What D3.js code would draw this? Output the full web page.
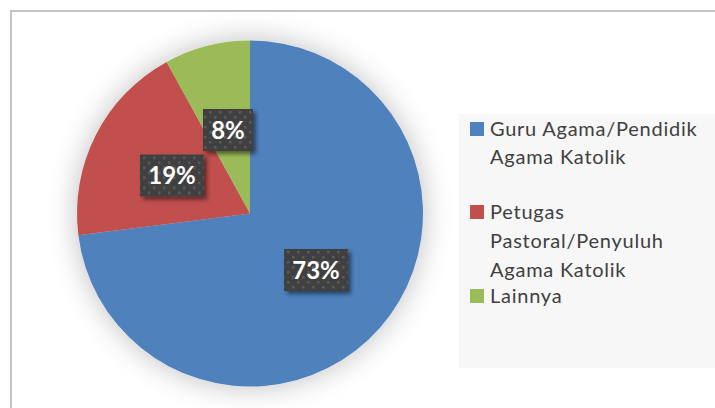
<!DOCTYPE html>
<html><head><meta charset="utf-8">
<script src="https://cdn.jsdelivr.net/npm/d3@7"></script>
<style>html,body{margin:0;padding:0;background:#fff;overflow:hidden}svg{display:block}</style>
</head><body>
<script>
const categories = ["Guru Agama/Pendidik Agama Katolik", "Petugas Pastoral/Penyuluh Agama Katolik", "Lainnya"];
const values = [73, 19, 8];
const labels = ["73%", "19%", "8%"];
const legendLines = [["Guru Agama/Pendidik", "Agama Katolik"], ["Petugas", "Pastoral/Penyuluh", "Agama Katolik"], ["Lainnya"]];
const colors = ["#4f81bd", "#c0504d", "#9bbb59"];

const W = 715, H = 408;
const svg = d3.select("body").append("svg").attr("width", W).attr("height", H);
const defs = svg.append("defs");

const glow = defs.append("filter").attr("id", "glow").attr("x", "-30%").attr("y", "-30%").attr("width", "160%").attr("height", "160%");
glow.append("feGaussianBlur").attr("in", "SourceAlpha").attr("stdDeviation", 15).attr("result", "b");
glow.append("feComponentTransfer").attr("in", "b").attr("result", "c")
  .append("feFuncA").attr("type", "linear").attr("slope", 0.26);
glow.append("feFlood").attr("flood-color", "#000").attr("result", "f");
glow.append("feComposite").attr("in", "f").attr("in2", "c").attr("operator", "in").attr("result", "s");
const gm = glow.append("feMerge");
gm.append("feMergeNode").attr("in", "s");
gm.append("feMergeNode").attr("in", "SourceGraphic");

const sh = defs.append("filter").attr("id", "sh").attr("x", "-20%").attr("y", "-20%").attr("width", "150%").attr("height", "160%");
sh.append("feGaussianBlur").attr("in", "SourceAlpha").attr("stdDeviation", 2).attr("result", "b");
sh.append("feOffset").attr("in", "b").attr("dx", 3).attr("dy", 3).attr("result", "o");
sh.append("feComponentTransfer").attr("in", "o").attr("result", "c")
  .append("feFuncA").attr("type", "linear").attr("slope", 0.5);
const sm = sh.append("feMerge");
sm.append("feMergeNode").attr("in", "c");
sm.append("feMergeNode").attr("in", "SourceGraphic");

const pat = defs.append("pattern").attr("id", "dots").attr("patternUnits", "userSpaceOnUse")
  .attr("width", 10).attr("height", 10);
pat.append("rect").attr("width", 10).attr("height", 10).attr("fill", "#404040");
pat.append("rect").attr("x", 1).attr("y", 1).attr("width", 2.5).attr("height", 2.5).attr("fill", "#5a5a5a");
pat.append("rect").attr("x", 6).attr("y", 6).attr("width", 2.5).attr("height", 2.5).attr("fill", "#5a5a5a");

// frame
svg.append("path").attr("d", `M11,${H} V11 H${W}`).attr("fill", "none").attr("stroke", "#c3c3c3").attr("stroke-width", 2);

// legend background
svg.append("rect").attr("x", 459).attr("y", 114).attr("width", W - 459).attr("height", 254).attr("fill", "#f7f7f7");

const cx = 250, cy = 213.5, r = 173;
const pie = d3.pie().sort(null).value(d => d)(values);
const arc = d3.arc().innerRadius(0).outerRadius(r);
const g = svg.append("g").attr("transform", `translate(${cx},${cy})`);
g.append("g").attr("filter", "url(#glow)")
  .selectAll("path").data(pie).join("path")
  .attr("d", arc).attr("fill", (d, i) => colors[i]);

// labels
const labelPos = [[316, 270], [172, 175.5], [228, 130]];
const boxW = [64, 64, 50];
const lg = svg.append("g");
pie.forEach((d, i) => {
  const [x, y] = labelPos[i];
  const gg = lg.append("g").attr("transform", `translate(${x},${y})`);
  gg.append("rect").attr("x", -boxW[i] / 2).attr("y", -21).attr("width", boxW[i]).attr("height", 42)
    .attr("fill", "url(#dots)").attr("filter", "url(#sh)");
  gg.append("text").attr("text-anchor", "middle").attr("y", 8.5)
    .attr("font-family", "Lato, 'Open Sans', sans-serif").attr("font-weight", "bold")
    .attr("font-size", 24).attr("fill", "#fff").text(labels[i]);
});

// legend
const legY = [[136, 164], [219, 248, 277], [303]];
const leg = svg.append("g");
legendLines.forEach((lines, i) => {
  leg.append("rect").attr("x", 470).attr("y", legY[i][0] - 14).attr("width", 14).attr("height", 14).attr("fill", colors[i]);
  lines.forEach((t, j) => {
    leg.append("text").attr("x", 490).attr("y", legY[i][j])
      .attr("font-family", "Lato, 'Open Sans', sans-serif").attr("font-size", 20)
      .attr("letter-spacing", 0.75)
      .attr("fill", "#404040").text(t);
  });
});
</script>
</body></html>
